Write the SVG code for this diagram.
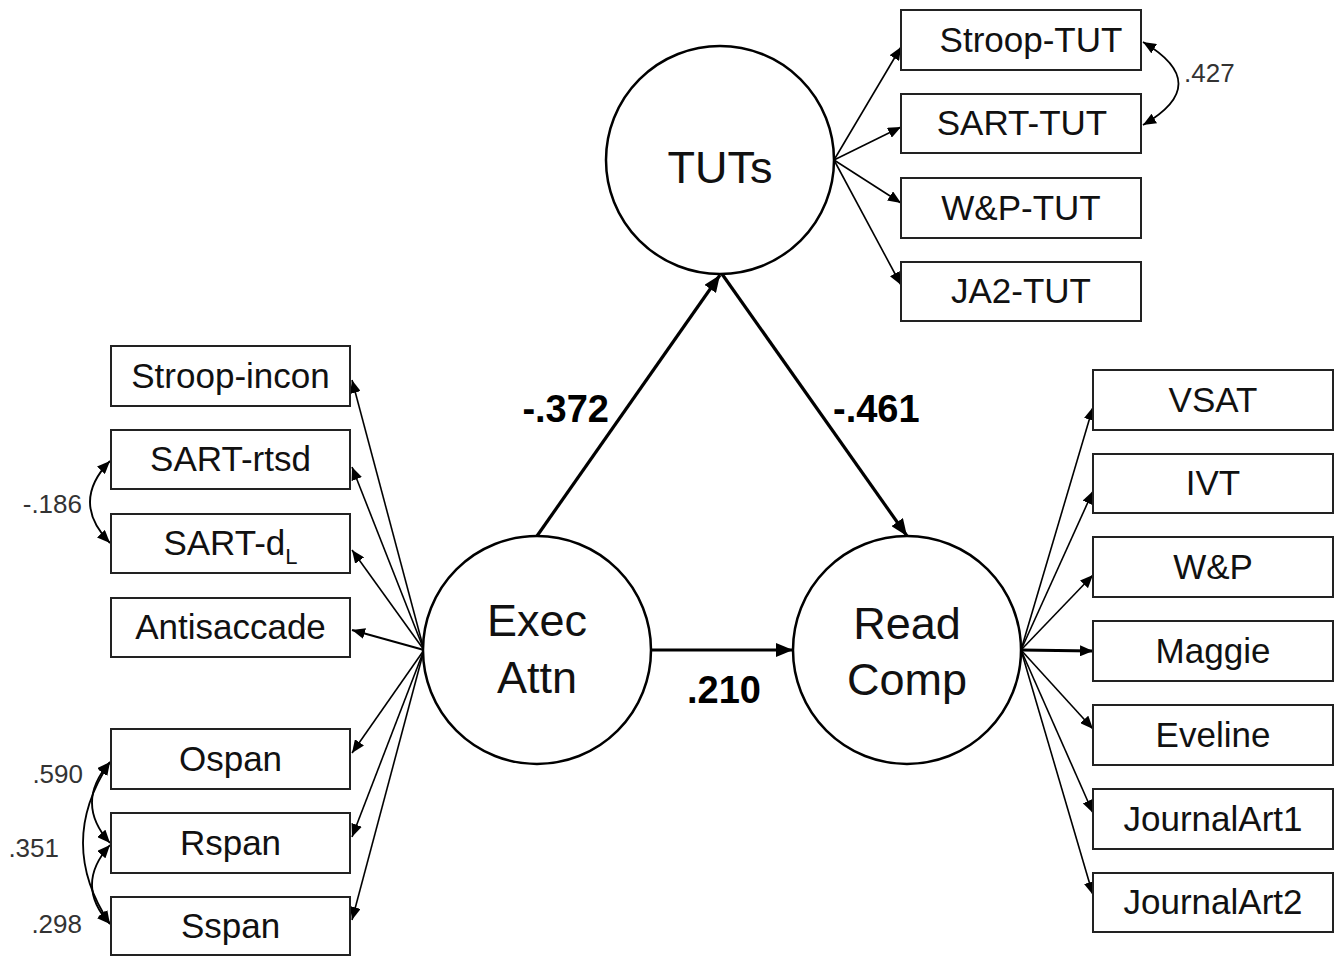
<svg xmlns="http://www.w3.org/2000/svg" width="1340" height="957" viewBox="0 0 1340 957">
<style>
  .box { fill: #fff; stroke: #222; stroke-width: 2; }
  .lat { fill: #fff; stroke: #000; stroke-width: 2.5; }
  .lbl { font-family: "Liberation Sans", Arial, sans-serif; font-size: 35px; fill: #111; text-anchor: middle; }
  .latlbl { font-family: "Liberation Sans", Arial, sans-serif; font-size: 45px; fill: #111; text-anchor: middle; }
  .coef { font-family: "Liberation Sans", Arial, sans-serif; font-size: 38px; font-weight: bold; fill: #000; }
  .cov { font-family: "Liberation Sans", Arial, sans-serif; font-size: 26px; fill: #333; }
  .ind { stroke: #000; stroke-width: 1.6; fill: none; marker-end: url(#ah); }
  .str { stroke: #000; stroke-width: 3.2; fill: none; marker-end: url(#ahb); }
  .cv { stroke: #000; stroke-width: 1.8; fill: none; marker-start: url(#ah2); marker-end: url(#ah2); }
</style>
<defs>
  <marker id="ah" markerUnits="userSpaceOnUse" markerWidth="13" markerHeight="11" refX="13" refY="5.5" orient="auto">
    <path d="M0,0 L13,5.5 L0,11 Z" fill="#000"/>
  </marker>
  <marker id="ah2" markerUnits="userSpaceOnUse" markerWidth="13" markerHeight="11" refX="13" refY="5.5" orient="auto-start-reverse">
    <path d="M0,0 L13,5.5 L0,11 Z" fill="#000"/>
  </marker>
  <marker id="ahb" markerUnits="userSpaceOnUse" markerWidth="17" markerHeight="14" refX="17" refY="7" orient="auto">
    <path d="M0,0 L17,7 L0,14 Z" fill="#000"/>
  </marker>
</defs>
<rect width="1340" height="957" fill="#fff"/>

<g id="connectors">
  <!-- structural paths -->
  <line class="str" x1="537" y1="536" x2="720" y2="275"/>
  <line class="str" x1="722" y1="274" x2="907" y2="536"/>
  <line class="str" x1="650" y1="650" x2="793" y2="650"/>
  <!-- Exec Attn indicators -->
  <line class="ind" x1="424" y1="650" x2="352" y2="380"/>
  <line class="ind" x1="424" y1="650" x2="352" y2="467"/>
  <line class="ind" x1="424" y1="650" x2="352" y2="550"/>
  <line class="ind" x1="424" y1="650" x2="352" y2="630" style="stroke-width:2.2"/>
  <line class="ind" x1="424" y1="650" x2="352" y2="753"/>
  <line class="ind" x1="424" y1="650" x2="352" y2="837"/>
  <line class="ind" x1="424" y1="650" x2="352" y2="920"/>
  <!-- TUTs indicators -->
  <line class="ind" x1="834" y1="160" x2="901" y2="47"/>
  <line class="ind" x1="834" y1="160" x2="901" y2="127"/>
  <line class="ind" x1="834" y1="160" x2="901" y2="203"/>
  <line class="ind" x1="834" y1="160" x2="901" y2="285"/>
  <!-- Read Comp indicators -->
  <line class="ind" x1="1021" y1="650" x2="1093" y2="407"/>
  <line class="ind" x1="1021" y1="650" x2="1093" y2="491"/>
  <line class="ind" x1="1021" y1="650" x2="1093" y2="575"/>
  <line class="ind" x1="1021" y1="650" x2="1093" y2="651" style="stroke-width:2.8"/>
  <line class="ind" x1="1021" y1="650" x2="1093" y2="729"/>
  <line class="ind" x1="1021" y1="650" x2="1093" y2="813"/>
  <line class="ind" x1="1021" y1="650" x2="1093" y2="895"/>
  <!-- covariances -->
  <path class="cv" d="M1143,42 Q1214,84 1143,125"/>
  <path class="cv" d="M110,461 Q70,502 110,543"/>
  <path class="cv" d="M110,762 Q74,803 110,843"/>
  <path class="cv" d="M110,845 Q74,885 110,924"/>
  <path class="cv" d="M110,762 Q56,843 110,924"/>
</g>

<g id="labels">
  <text class="coef" x="609" y="422" text-anchor="end">-.372</text>
  <text class="coef" x="833" y="422">-.461</text>
  <text class="coef" x="687" y="703">.210</text>
  <text class="cov" x="1184" y="82">.427</text>
  <text class="cov" x="82" y="513" text-anchor="end">-.186</text>
  <text class="cov" x="83" y="783" text-anchor="end">.590</text>
  <text class="cov" x="59" y="857" text-anchor="end">.351</text>
  <text class="cov" x="82" y="933" text-anchor="end">.298</text>
</g>

<g id="TUTs"><circle class="lat" cx="720" cy="160" r="114"/><text class="latlbl" x="720" y="183">TUTs</text></g>
<g id="ExecAttn"><circle class="lat" cx="537" cy="650" r="114"/><text class="latlbl" x="537" y="636">Exec</text><text class="latlbl" x="537" y="693">Attn</text></g>
<g id="ReadComp"><circle class="lat" cx="907" cy="650" r="114"/><text class="latlbl" x="907" y="639">Read</text><text class="latlbl" x="907" y="695">Comp</text></g>

<g id="Stroop-incon"><rect class="box" x="111" y="346" width="239" height="60"/><text class="lbl" x="230.5" y="388">Stroop-incon</text></g>
<g id="SART-rtsd"><rect class="box" x="111" y="430" width="239" height="59"/><text class="lbl" x="230.5" y="471">SART-rtsd</text></g>
<g id="SART-dL"><rect class="box" x="111" y="514" width="239" height="59"/><text class="lbl" x="230.5" y="555">SART-d<tspan font-size="22" dy="9">L</tspan></text></g>
<g id="Antisaccade"><rect class="box" x="111" y="598" width="239" height="59"/><text class="lbl" x="230.5" y="639">Antisaccade</text></g>
<g id="Ospan"><rect class="box" x="111" y="729" width="239" height="60"/><text class="lbl" x="230.5" y="771">Ospan</text></g>
<g id="Rspan"><rect class="box" x="111" y="813" width="239" height="60"/><text class="lbl" x="230.5" y="855">Rspan</text></g>
<g id="Sspan"><rect class="box" x="111" y="897" width="239" height="58"/><text class="lbl" x="230.5" y="938">Sspan</text></g>

<g id="Stroop-TUT"><rect class="box" x="901" y="10" width="240" height="60"/><text class="lbl" x="1031" y="52">Stroop-TUT</text></g>
<g id="SART-TUT"><rect class="box" x="901" y="94" width="240" height="59"/><text class="lbl" x="1022" y="135">SART-TUT</text></g>
<g id="WP-TUT"><rect class="box" x="901" y="178" width="240" height="60"/><text class="lbl" x="1021" y="220">W&amp;P-TUT</text></g>
<g id="JA2-TUT"><rect class="box" x="901" y="262" width="240" height="59"/><text class="lbl" x="1021" y="303">JA2-TUT</text></g>

<g id="VSAT"><rect class="box" x="1093" y="370" width="240" height="60"/><text class="lbl" x="1213" y="412">VSAT</text></g>
<g id="IVT"><rect class="box" x="1093" y="454" width="240" height="59"/><text class="lbl" x="1213" y="495">IVT</text></g>
<g id="WP"><rect class="box" x="1093" y="537" width="240" height="60"/><text class="lbl" x="1213" y="579">W&amp;P</text></g>
<g id="Maggie"><rect class="box" x="1093" y="621" width="240" height="60"/><text class="lbl" x="1213" y="663">Maggie</text></g>
<g id="Eveline"><rect class="box" x="1093" y="705" width="240" height="60"/><text class="lbl" x="1213" y="747">Eveline</text></g>
<g id="JournalArt1"><rect class="box" x="1093" y="789" width="240" height="60"/><text class="lbl" x="1213" y="831">JournalArt1</text></g>
<g id="JournalArt2"><rect class="box" x="1093" y="873" width="240" height="59"/><text class="lbl" x="1213" y="914">JournalArt2</text></g>
</svg>
